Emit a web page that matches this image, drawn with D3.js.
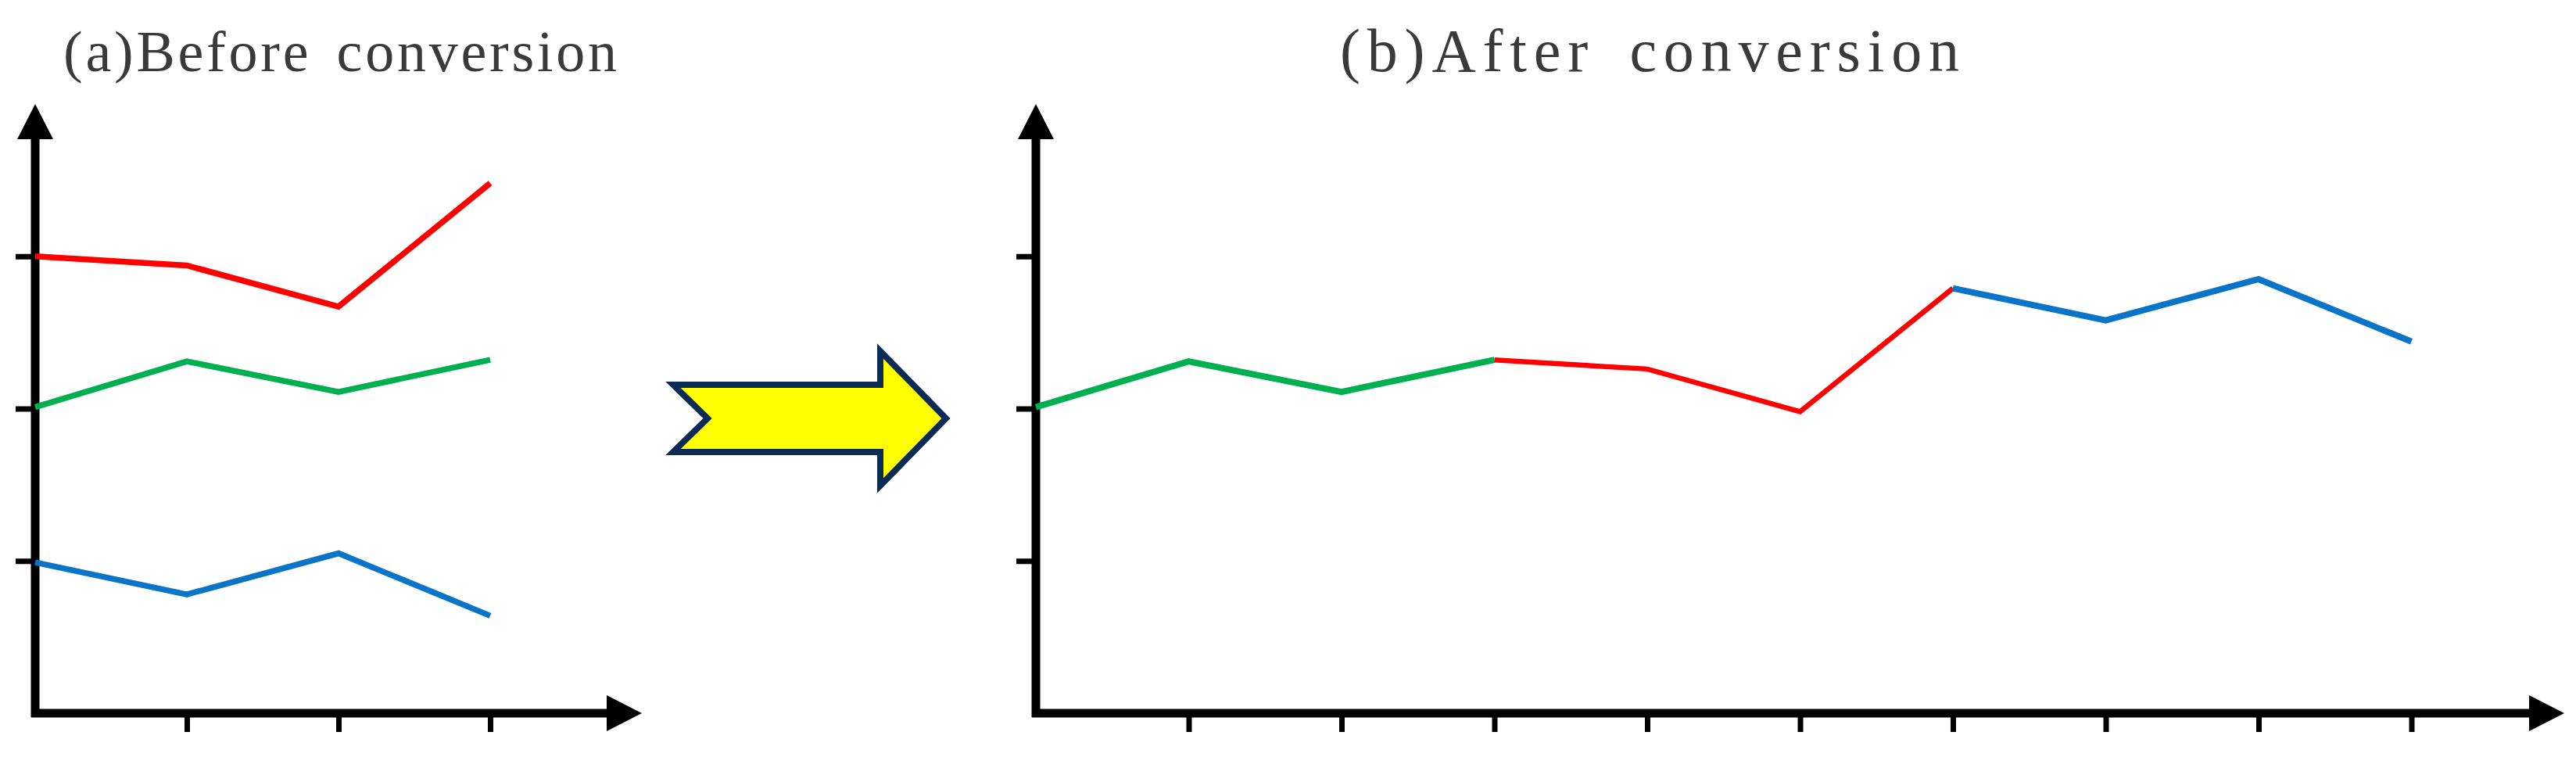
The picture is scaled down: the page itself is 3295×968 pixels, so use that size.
<!DOCTYPE html>
<html>
<head>
<meta charset="utf-8">
<script src="https://cdn.jsdelivr.net/npm/d3@7"></script>
<style>
  body { margin: 0; background: #fff; }
  .title { font-family: "Liberation Serif", "Times New Roman", serif; fill: #3a3a3a; }
</style>
</head>
<body>
<div class="svg-container"></div>
<script>

let w = 3295;
let h = 968;

// ---- data (y in tick units, x = position index) ----
let beforeRed   = [3.00, 2.94, 2.67, 3.48];
let beforeGreen = [2.01, 2.31, 2.11, 2.32];
let beforeBlue  = [0.99, 0.78, 1.05, 0.64];

let afterGreen = [2.01, 2.31, 2.11, 2.32];
let afterRed   = [2.32, 2.26, 1.98, 2.79];
let afterBlue  = [2.79, 2.58, 2.85, 2.44];
let afterStart = { green: 0, red: 3, blue: 6 };

let beforeXTicks = [1, 2, 3];
let afterXTicks  = [1, 2, 3, 4, 5, 6, 7, 8, 9];
let yTicks = [1, 2, 3];

let titles = ["(a)Before conversion", "(b)After conversion"];

let colors = { red: '#ff0000', green: '#00b050', blue: '#0a74c8' };

let svg = d3.select(".svg-container")
  .append("svg")
  .attr('width', w)
  .attr('height', h);

// scales
let y = d3.scaleLinear().domain([0, 4]).range([912, 133]);
let xA = d3.scaleLinear().domain([0, 4]).range([45, 821]);
let xB = d3.scaleLinear().domain([0, 10]).range([1325, 3280]);

let headLen = 45, headHalf = 23;

function drawAxes(xs, xTicks) {
  let g = svg.append("g");
  let x0 = xs.range()[0];
  let x1 = xs.range()[1];
  let y0 = y.range()[0];
  let y1 = y.range()[1];

  let xAxis = d3.axisBottom(xs).tickValues(xTicks).tickFormat("").tickSizeOuter(0).tickSize(24);
  let xg = g.append("g").attr("transform", "translate(0," + y0 + ")").call(xAxis);
  xg.select(".domain")
    .attr("d", "M" + (x0 - 5) + ",0H" + (x1 - headLen + 2))
    .attr("stroke", "#000").attr("stroke-width", 11);
  xg.selectAll(".tick line").attr("stroke", "#000").attr("stroke-width", 7);

  let yAxis = d3.axisLeft(y).tickValues(yTicks).tickFormat("").tickSizeOuter(0).tickSize(25);
  let yg = g.append("g").attr("transform", "translate(" + x0 + ",0)").call(yAxis);
  yg.select(".domain")
    .attr("d", "M0," + (y0 + 5) + "V" + (y1 + headLen - 2))
    .attr("stroke", "#000").attr("stroke-width", 11);
  yg.selectAll(".tick line").attr("stroke", "#000").attr("stroke-width", 7);

  // arrow heads
  g.append("path")
    .attr("d", "M" + x1 + "," + y0 + "L" + (x1 - headLen) + "," + (y0 - headHalf) + "L" + (x1 - headLen) + "," + (y0 + headHalf) + "Z")
    .attr("fill", "#000");
  g.append("path")
    .attr("d", "M" + x0 + "," + y1 + "L" + (x0 - headHalf) + "," + (y1 + headLen) + "L" + (x0 + headHalf) + "," + (y1 + headLen) + "Z")
    .attr("fill", "#000");
}

function drawLine(xs, values, start, color, width) {
  let line = d3.line()
    .x(function(d, i) { return xs(start + i); })
    .y(function(d) { return y(d); });
  svg.append("path")
    .datum(values)
    .attr("d", line)
    .attr("fill", "none")
    .attr("stroke", color)
    .attr("stroke-width", width)
    .attr("stroke-linejoin", "miter");
}

drawAxes(xA, beforeXTicks);
drawAxes(xB, afterXTicks);

// (a) lines
drawLine(xA, beforeRed, 0, colors.red, 7.5);
drawLine(xA, beforeGreen, 0, colors.green, 7.5);
drawLine(xA, beforeBlue, 0, colors.blue, 7.5);

// (b) lines
drawLine(xB, afterGreen, afterStart.green, colors.green, 8);
drawLine(xB, afterRed, afterStart.red, colors.red, 6.5);
drawLine(xB, afterBlue, afterStart.blue, colors.blue, 8);

// titles
svg.append("text")
  .attr("class", "title")
  .attr("x", 435).attr("y", 91)
  .attr("text-anchor", "middle")
  .attr("font-size", "74px")
  .attr("word-spacing", "10px")
  .attr("textLength", 708).attr("lengthAdjust", "spacing")
  .text(titles[0]);

svg.append("text")
  .attr("class", "title")
  .attr("x", 2110).attr("y", 91)
  .attr("text-anchor", "middle")
  .attr("font-size", "78px")
  .attr("word-spacing", "16px")
  .attr("textLength", 792).attr("lengthAdjust", "spacing")
  .text(titles[1]);

// yellow conversion arrow between the panels
let arrowMid = 535;
let arrowPts = [
  [861, arrowMid - 43], [905, arrowMid], [861, arrowMid + 43],
  [1126, arrowMid + 43], [1126, arrowMid + 86], [1210, arrowMid],
  [1126, arrowMid - 86], [1126, arrowMid - 43]
];
svg.append("polygon")
  .attr("points", arrowPts.map(function(p) { return p.join(","); }).join(" "))
  .attr("fill", "#ffff00")
  .attr("stroke", "#0b2a55")
  .attr("stroke-width", 8)
  .attr("stroke-linejoin", "miter");

</script>
</body>
</html>
